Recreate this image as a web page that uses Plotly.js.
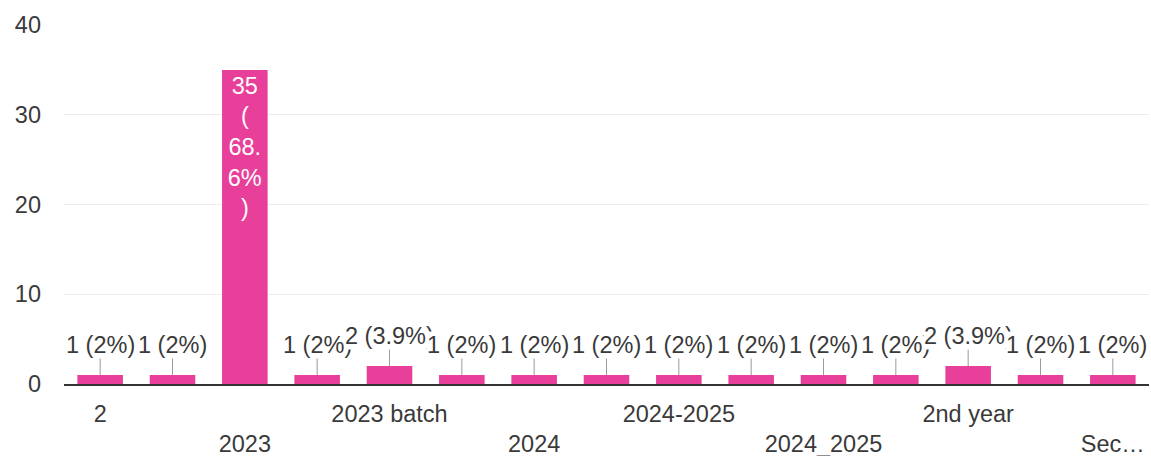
<!DOCTYPE html>
<html>
<head>
<meta charset="utf-8">
<script src="https://cdn.plot.ly/plotly-3.0.1.min.js"></script>
<style>html,body{margin:0;padding:0;background:#fff;}#chart{width:1151px;height:456px;}</style>
</head>
<body>
<div id="chart"></div>
<script>
// Category labels as they appear (hidden labels left empty)
const categories = ["2", "", "2023", "", "2023 batch", "", "2024", "", "2024-2025", "", "2024_2025", "", "2nd year", "", "Sec…"];
const counts = [1, 1, 35, 1, 2, 1, 1, 1, 1, 1, 1, 1, 2, 1, 1];
const yTicks = [0, 10, 20, 30, 40];

const total = counts.reduce((a, b) => a + b, 0);
function pct(v) {
  let p = Math.round(v / total * 1000) / 10;
  return (p % 1 === 0 ? p.toFixed(0) : p.toFixed(1)) + "%";
}
const xs = counts.map((_, i) => i);
const tickText = categories.map((c, i) => (i % 4 === 2 ? "<br>" + c : c));

const FONT = "Liberation Sans, Arial, sans-serif";
const TXT = "#3a3a3a";
const PINK = "#e8409a";
const FS = 23.5;

const insideText = counts.map(v => v >= 10 ? [String(v), "(", pct(v).slice(0, 3), pct(v).slice(3), ")"].join("<br>") : "");

const annotations = [];
counts.forEach((v, i) => {
  if (v < 10) {
    annotations.push({
      x: i, y: v, xref: "x", yref: "y",
      text: v + " (" + pct(v) + ")",
      showarrow: true, arrowhead: 0, arrowwidth: 1, arrowcolor: "#9a9a9a",
      ax: 0, ay: -30, standoff: 0,
      bgcolor: "#ffffff", borderpad: 0,
      font: {family: FONT, size: FS, color: TXT}
    });
  }
});

const trace = {
  type: "bar",
  x: xs,
  y: counts,
  marker: {color: PINK},
  text: insideText,
  textposition: "inside",
  insidetextanchor: "end",
  textangle: 0,
  constraintext: "none",
  insidetextfont: {family: FONT, size: FS, color: "#ffffff"},
  hoverinfo: "none"
};

const layout = {
  width: 1151, height: 456,
  margin: {l: 64, r: 2, t: 25, b: 72},
  paper_bgcolor: "#ffffff", plot_bgcolor: "#ffffff",
  bargap: 0.37,
  showlegend: false,
  font: {family: FONT, size: FS, color: TXT},
  xaxis: {
    range: [-0.5, 14.5],
    tickmode: "array", tickvals: xs, ticktext: tickText,
    showgrid: false, zeroline: false,
    showline: true, linecolor: "#333333", linewidth: 1.5,
    ticks: "", ticklabelstandoff: 8,
    tickfont: {family: FONT, size: FS, color: TXT}
  },
  yaxis: {
    range: [0, 40],
    tickmode: "array", tickvals: yTicks, ticktext: yTicks.map(String),
    showgrid: true, gridcolor: "#ececec", gridwidth: 1,
    zeroline: false, showline: false, ticks: "",
    ticklabelstandoff: 22,
    tickfont: {family: FONT, size: FS, color: TXT}
  },
  annotations: annotations
};

Plotly.newPlot("chart", [trace], layout, {staticPlot: true, displayModeBar: false});
</script>
</body>
</html>
